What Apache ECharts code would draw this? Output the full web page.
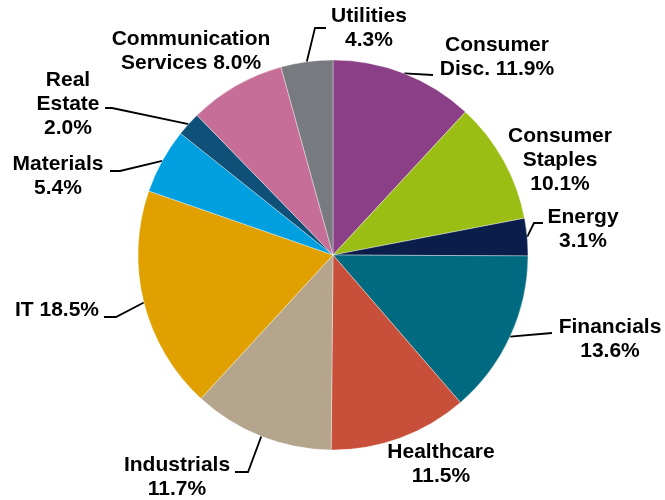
<!DOCTYPE html>
<html><head><meta charset="utf-8">
<script src="https://cdn.jsdelivr.net/npm/echarts@6/dist/echarts.min.js"></script>
<style>html,body{margin:0;padding:0;background:#fff}#c{width:665px;height:500px}</style>
</head><body><div id="c"></div>
<script>
const categories = ['Consumer\nDisc.', 'Consumer\nStaples\n', 'Energy\n', 'Financials\n', 'Healthcare\n', 'Industrials\n', 'IT', 'Materials\n', 'Real\nEstate\n', 'Communication\nServices', 'Utilities\n'];
const values = [11.9, 10.1, 3.1, 13.6, 11.5, 11.7, 18.5, 5.4, 2.0, 8.0, 4.3];
const colors = ['#8A3F87', '#9BBE14', '#0B1E4B', '#006A80', '#C8503A', '#B4A58C', '#DFA000', '#009FE0', '#0E5078', '#C66E98', '#777B80'];

// label layout: text block centre and leader-line bends (null = no leader line)
const labelPos = [
  {x: 497, y: 57, line: [[433, 75]]},
  {x: 560, y: 160, line: null},
  {x: 583, y: 229, line: [[534, 223], [543, 223]]},
  {x: 610, y: 339, line: [[552, 333]]},
  {x: 441, y: 464, line: null},
  {x: 177, y: 477, line: [[248, 472], [235, 472]]},
  {x: 57, y: 310, line: [[116, 317], [104, 317]]},
  {x: 58, y: 176, line: [[120, 171], [110, 171]]},
  {x: 68, y: 104, line: [[112, 108], [105, 108]]},
  {x: 191, y: 51, line: null},
  {x: 369, y: 28, line: [[315, 28], [326, 28]]}
];

const chart = echarts.init(document.getElementById('c'), null, {renderer: 'canvas'});
chart.setOption({
  animation: false,
  series: [{
    type: 'pie',
    center: [333, 255],
    radius: 195,
    startAngle: 90,
    clockwise: true,
    avoidLabelOverlap: false,
    itemStyle: {borderColor: 'rgba(255,255,255,0.6)', borderWidth: 0.6},
    label: {
      show: true,
      position: 'outside',
      formatter: p => p.name + (p.name.endsWith('\n') ? '' : ' ') + p.value.toFixed(1) + '%',
      fontFamily: 'Liberation Sans, Arial, sans-serif',
      fontWeight: 'bold',
      fontSize: 21,
      lineHeight: 24,
      color: '#000',
      align: 'center'
    },
    labelLine: {show: true, lineStyle: {color: '#000', width: 1.8}, smooth: false},
    emphasis: {disabled: true},
    labelLayout: function (params) {
      const lp = labelPos[params.dataIndex];
      const res = {x: lp.x, y: lp.y, align: 'center', verticalAlign: 'middle'};
      if (lp.line && params.labelLinePoints) {
        const pts = [params.labelLinePoints[0]].concat(lp.line);
        if (pts.length === 2) pts.push(lp.line[0]);
        res.labelLinePoints = pts;
      } else {
        const a = params.labelLinePoints ? params.labelLinePoints[0] : [0, 0];
        res.labelLinePoints = [a, a, a];
      }
      return res;
    },
    data: categories.map((c, i) => ({name: c, value: values[i], itemStyle: {color: colors[i]}}))
  }]
});
</script>
</body></html>
